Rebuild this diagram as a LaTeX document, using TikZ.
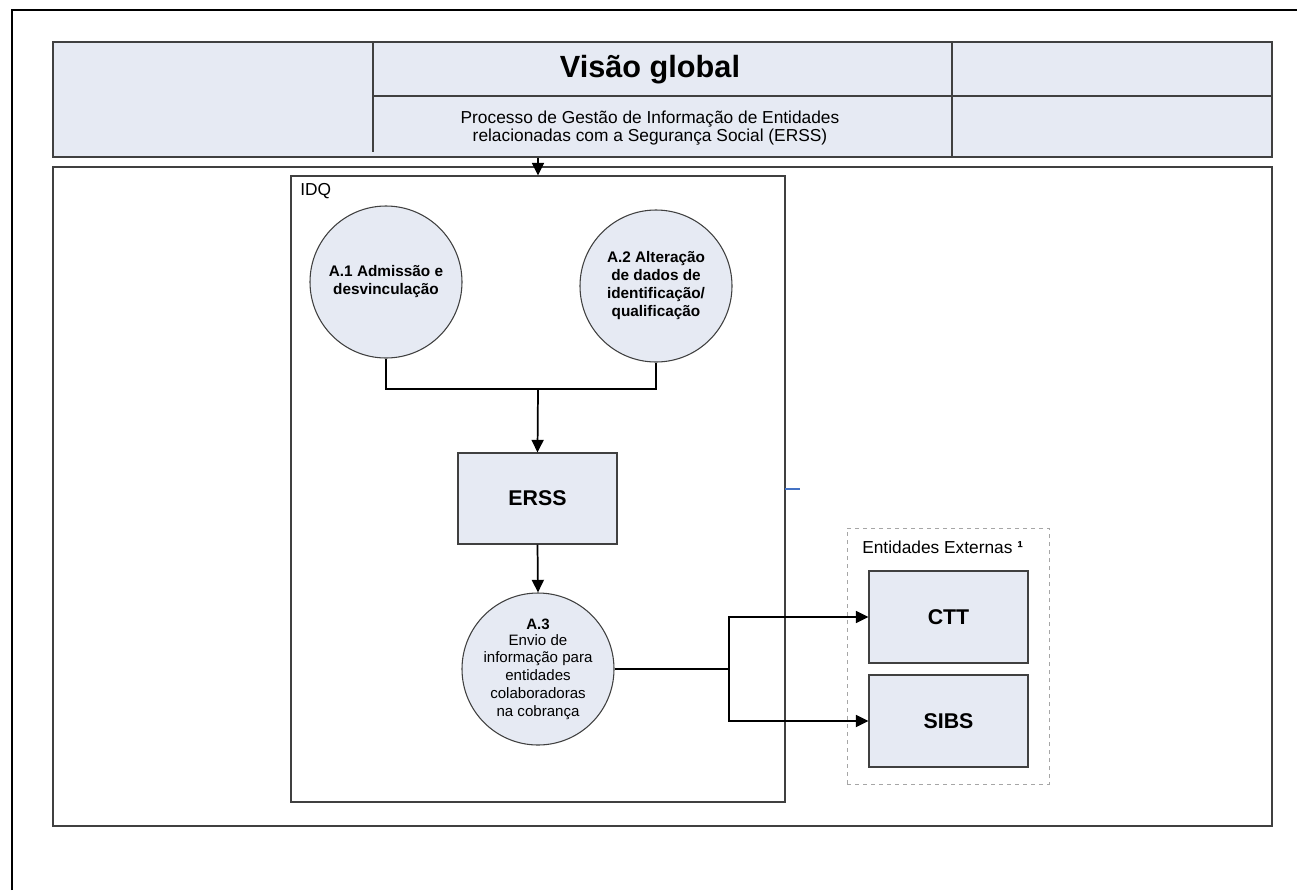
\documentclass[tikz,border=0pt]{standalone}
\usepackage{fontspec}
\setmainfont{Liberation Sans}
\usetikzlibrary{arrows.meta}

\definecolor{panelfill}{HTML}{E6EAF3}
\definecolor{edgegray}{HTML}{404040}
\definecolor{strayblue}{HTML}{4472C4}

\tikzset{
  panel/.style={draw=edgegray, line width=0.8pt, fill=panelfill},
  frame/.style={draw=edgegray, line width=0.8pt, fill=white},
  process/.style={circle, panel, minimum size=114pt, inner sep=0pt, align=center,
                  font=\fontsize{11.3pt}{13.3pt}\selectfont},
  entity/.style={rectangle, panel, inner sep=0pt, align=center,
                 font=\fontsize{16pt}{18pt}\selectfont\bfseries},
  flow/.style={draw=black, line width=1.3pt},
  arr/.style={flow, -{Triangle[length=9.5pt,width=9pt]}},
  lbl/.style={font=\fontsize{13pt}{13.5pt}\selectfont, inner sep=0pt}
}

\begin{document}
\begin{tikzpicture}[x=0.75pt,y=-0.75pt]
  \useasboundingbox (0,0) rectangle (1297,890);

  % page frame (top and left edges)
  \draw[black, line width=1.5pt] (12,890) -- (12,10) -- (1297,10);

  % title band
  \node[panel, rectangle, minimum width=914.25pt, minimum height=86.25pt, inner sep=0pt]
    (header) at (662.5,99.5) {};
  \draw[edgegray, line width=0.8pt] (373,42) -- (373,152);
  \draw[edgegray, line width=0.8pt] (952,42) -- (952,157);
  \draw[edgegray, line width=0.8pt] (373,96) -- (1272,96);
  \node[font=\fontsize{23pt}{26pt}\selectfont\bfseries, inner sep=0pt] (title) at (650,70) {Visão global};
  \node[lbl, align=center] (subtitle) at (650,128)
    {Processo de Gestão de Informação de Entidades\\relacionadas com a Segurança Social (ERSS)};

  % main area
  \node[frame, rectangle, minimum width=914.25pt, minimum height=494.25pt, inner sep=0pt]
    (main) at (662.5,496.5) {};

  % IDQ container
  \node[frame, rectangle, minimum width=370.5pt, minimum height=469.5pt, inner sep=0pt]
    (idq) at (538,489) {};
  \node[lbl, anchor=north west] (idqlabel) at (300,183) {IDQ};

  % processes
  \node[process, font=\fontsize{11.5pt}{13.5pt}\selectfont\bfseries] (a1) at (386,282)
    {A.1 Admissão e\\desvinculação};
  \node[process, font=\fontsize{11.5pt}{13.5pt}\selectfont\bfseries] (a2) at (656,286)
    {A.2 Alteração\\de dados de\\identificação/\\qualificação};
  \node[entity, minimum width=119.25pt, minimum height=68.25pt] (erss) at (537.5,498.5) {ERSS};
  \node[process] (a3) at (538,669)
    {\textbf{A.3}\\[-1.5pt]Envio de\\informação para\\entidades\\colaboradoras\\na cobrança};

  % external entities
  \node[rectangle, draw=gray!70, dashed, line width=0.6pt, minimum width=151.5pt,
        minimum height=192pt, inner sep=0pt] (ext) at (948,656) {};
  \node[lbl, anchor=west] (extlabel) at (862,547) {Entidades Externas \textbf{¹}};
  \node[entity, minimum width=119.25pt, minimum height=69pt] (ctt) at (948.5,617) {CTT};
  \node[entity, minimum width=119.25pt, minimum height=69pt] (sibs) at (948.5,721) {SIBS};

  % connectors
  \draw[arr] (header.south -| idq.north) -- (idq.north);
  \coordinate (join) at (538,389);
  \draw[flow] (a1.south) |- (join) -| (a2.south);
  \draw[arr] (join) -- (erss.north);
  \draw[arr] (erss.south) -- (a3.north);
  \coordinate (split) at (729,669);
  \draw[flow] (a3.east) -- (split);
  \draw[arr] (split) |- (ctt.west);
  \draw[arr] (split) |- (sibs.west);

  % short blue tick on the IDQ edge
  \coordinate (tick) at (785,489);
  \draw[strayblue, line width=0.9pt] (tick) -- ++(15,0);
\end{tikzpicture}
\end{document}
